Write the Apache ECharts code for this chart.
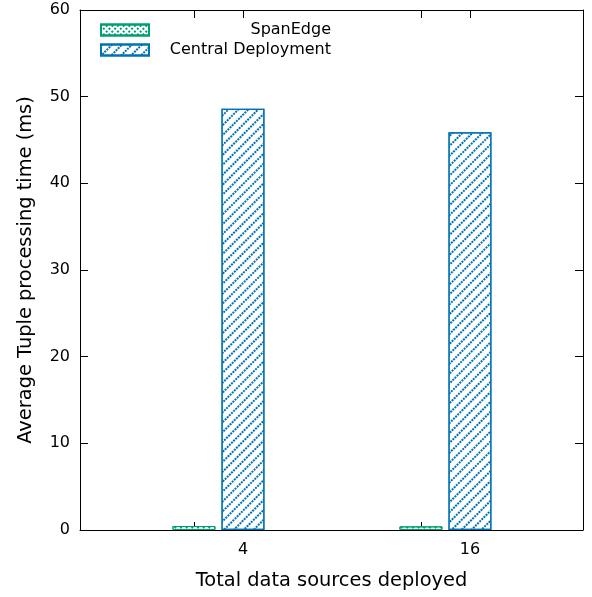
<!DOCTYPE html>
<html>
<head>
<meta charset="utf-8">
<script src="https://cdn.jsdelivr.net/npm/echarts@6/dist/echarts.min.js"></script>
<style>
  html, body { margin: 0; padding: 0; background: #fff; }
  #chart { width: 592px; height: 597px; }
</style>
</head>
<body>
<div id="chart"></div>
<script>
// 数据源数量 vs 平均元组处理时间
const categories = ['4', '16'];
const seriesNames = ['SpanEdge', 'Central Deployment'];
const spanEdge = [0.46, 0.42];
const central = [48.6, 45.9];
const yTicks = [0, 10, 20, 30, 40, 50, 60];

const COLORS = { green: '#009e73', blue: '#0072b2', text: '#000' };
const FONT = 'DejaVu Sans';

// 组中心在 x = 索引; 每根柱中心偏移约 0.108
const OFF = 0.108;
const tickPos = categories.flatMap((_, i) => [i - OFF, i + OFF]);
const labelPos = categories.map((_, i) => i + OFF);

const chart = echarts.init(document.getElementById('chart'), null, { renderer: 'canvas' });

const xCommon = {
  type: 'value',
  min: -0.61,
  max: 1.606,
  splitLine: { show: false },
  axisLine: { show: true, onZero: false, lineStyle: { color: '#000', width: 1 } },
  axisTick: { show: true, inside: true, length: 8, customValues: tickPos, lineStyle: { color: '#000' } },
};

const yCommon = {
  type: 'value',
  min: 0,
  max: 60,
  interval: 10,
  splitLine: { show: false },
  axisLine: { show: true, onZero: false, lineStyle: { color: '#000' } },
  axisTick: { show: true, inside: true, length: 8, lineStyle: { color: '#000' } },
};

chart.setOption({
  animation: false,
  backgroundColor: '#fff',
  textStyle: { fontFamily: FONT },
  grid: { left: 80, right: 9, top: 10, bottom: 67 },
  legend: {
    orient: 'vertical',
    left: 95,
    top: 17,
    itemWidth: 48,
    itemHeight: 11,
    itemGap: 4,
    icon: 'rect',
    selectedMode: false,
    data: seriesNames,
    formatter: (name) => `{n|${name}}`,
    textStyle: {
      fontFamily: FONT,
      fontSize: 16,
      color: COLORS.text,
      rich: { n: { width: 177, align: 'right', fontSize: 16, fontFamily: FONT } },
    },
  },
  xAxis: [
    Object.assign({}, xCommon, {
      position: 'bottom',
      name: 'Total data sources deployed',
      nameLocation: 'middle',
      nameGap: 41,
      nameTextStyle: { fontSize: 19.4, color: COLORS.text, fontFamily: FONT },
      axisLabel: {
        show: true,
        customValues: labelPos,
        margin: 12,
        fontSize: 16,
        color: COLORS.text,
        formatter: (v) => categories[Math.round(v - OFF)],
      },
    }),
    Object.assign({}, xCommon, {
      position: 'top',
      axisLabel: { show: false },
    }),
  ],
  yAxis: [
    Object.assign({}, yCommon, {
      position: 'left',
      axisLabel: { margin: 10, fontSize: 16, color: COLORS.text, formatter: (v) => yTicks.includes(v) ? String(v) : '' },
      name: 'Average Tuple processing time (ms)',
      nameLocation: 'middle',
      nameGap: 45,
      nameTextStyle: { fontSize: 19.4, color: COLORS.text, fontFamily: FONT },
    }),
    Object.assign({}, yCommon, {
      position: 'right',
      axisLabel: { show: false },
    }),
  ],
  series: [
    {
      name: seriesNames[0],
      type: 'bar',
      barWidth: 43,
      barGap: '14%',
      data: spanEdge.map((v, i) => [i, v]),
      itemStyle: {
        color: '#fff',
        borderColor: COLORS.green,
        borderWidth: 1,
        decal: {
          symbol: 'rect',
          symbolSize: 1,
          color: COLORS.green,
          dashArrayX: [1.5, 1.5],
          dashArrayY: [1.5, 1.5],
          rotation: Math.PI / 4,
        },
      },
    },
    {
      name: seriesNames[1],
      type: 'bar',
      barWidth: 43,
      barGap: '14%',
      data: central.map((v, i) => [i, v]),
      itemStyle: {
        color: '#fff',
        borderColor: COLORS.blue,
        borderWidth: 1.2,
        decal: {
          symbol: 'rect',
          symbolSize: 1,
          color: COLORS.blue,
          dashArrayX: [2, 1],
          dashArrayY: [1.2, 4.2],
          rotation: -Math.PI / 4,
        },
      },
    },
  ],
});
</script>
</body>
</html>
